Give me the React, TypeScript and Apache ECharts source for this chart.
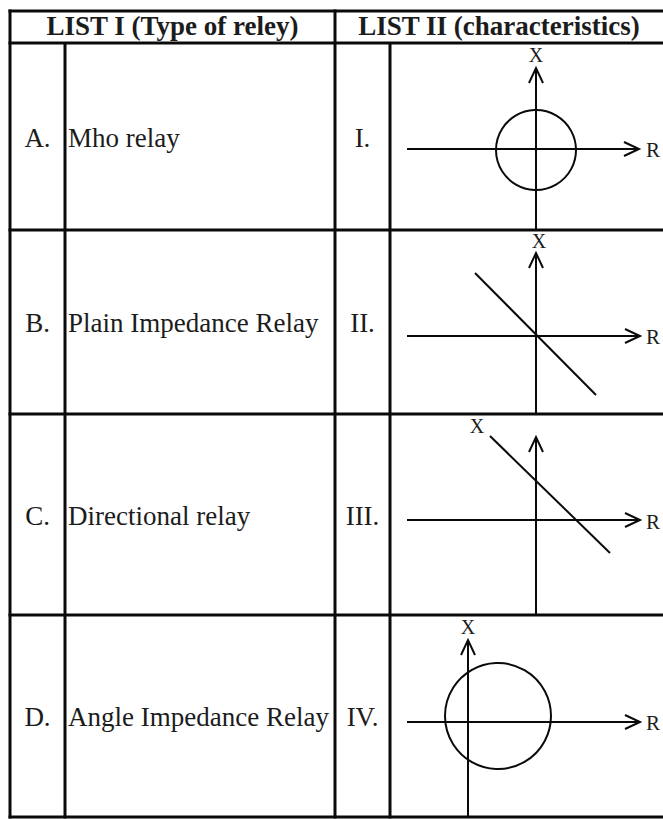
import React, { useEffect, useRef } from "react";
import * as echarts from "echarts";

// ---------- content ----------
const headers = ["LIST I (Type of reley)", "LIST II (characteristics)"];
const letters = ["A.", "B.", "C.", "D."];
const relayTypes = ["Mho relay", "Plain Impedance Relay", "Directional relay", "Angle Impedance Relay"];
const numerals = ["I.", "II.", "III.", "IV."];
const axisNames = ["X", "R"];

// ---------- characteristic diagrams (R–X plane units) ----------
const rAxisSpans = [[-12.9, 10.3], [-12.9, 10.4], [-12.9, 10.4], [-6.1, 17.2]];
const xAxisSpans = [[-8.1, 8.1], [-7.8, 8.3], [-9.5, 8.3], [-9.5, 8.2]];
const diagonals = [[], [[-6.1, 6.3], [6.0, -5.9]], [[-4.6, 8.4], [7.4, -3.3]], []];
const circles = [[[0, -0.1, 4.0]], [], [], [[3.0, 0.6, 5.3]]];
const xNameAt = [[0, 9.4], [0.3, 9.5], [-5.9, 9.4], [0, 9.5]];
const rNameAt = [[11.0, -0.1], [11.0, -0.1], [11.0, -0.2], [17.8, -0.1]];

// ---------- layout ----------
const W = 663;
const H = 819;
const rowLines = [11, 43, 230, 414, 615, 817];
const leftX = 10;
const innerX1 = 65;
const midX = 335;
const innerX2 = 390;
const cellLeft = 392;
const cellRight = 663;
const origins = [[536, 149], [536, 336], [536, 520], [468, 722]];
const UNIT = 10;
const FONT = '"Liberation Serif", "Times New Roman", serif';
const INK = "#1c1c1c";
const LINE = "#0a0a0a";

export default function App() {
  const ref = useRef<HTMLDivElement>(null);

  useEffect(() => {
    if (!ref.current) return;
    const chart = echarts.init(ref.current, undefined, { renderer: "svg" });

    const grids: any[] = [];
    const xAxes: any[] = [];
    const yAxes: any[] = [];
    const series: any[] = [];

    origins.forEach((o, i) => {
      const top = rowLines[i + 1];
      const bottom = rowLines[i + 2];
      grids.push({
        left: cellLeft,
        top,
        width: cellRight - cellLeft,
        height: bottom - top,
        show: false,
        containLabel: false,
        outerBoundsMode: "none",
      });
      xAxes.push({
        type: "value",
        gridIndex: i,
        min: (cellLeft - o[0]) / UNIT,
        max: (cellRight - o[0]) / UNIT,
        show: false,
      });
      yAxes.push({
        type: "value",
        gridIndex: i,
        min: (o[1] - bottom) / UNIT,
        max: (o[1] - top) / UNIT,
        show: false,
      });

      // R and X axes with open arrowheads
      series.push({
        type: "custom",
        xAxisIndex: i,
        yAxisIndex: i,
        silent: true,
        clip: false,
        data: [
          [rAxisSpans[i][0], 0, rAxisSpans[i][1], 0],
          [0, xAxisSpans[i][0], 0, xAxisSpans[i][1]],
        ],
        renderItem: (_p: any, api: any) => {
          const p1 = api.coord([api.value(0), api.value(1)]);
          const p2 = api.coord([api.value(2), api.value(3)]);
          const dx = p2[0] - p1[0];
          const dy = p2[1] - p1[1];
          const len = Math.hypot(dx, dy) || 1;
          const ux = dx / len;
          const uy = dy / len;
          const L = 15;
          const A = 7;
          const a1 = [p2[0] - ux * L - uy * A, p2[1] - uy * L + ux * A];
          const a2 = [p2[0] - ux * L + uy * A, p2[1] - uy * L - ux * A];
          return {
            type: "group",
            children: [
              {
                type: "line",
                shape: { x1: p1[0], y1: p1[1], x2: p2[0], y2: p2[1] },
                style: { stroke: LINE, lineWidth: 2 },
              },
              {
                type: "polyline",
                shape: { points: [a1, p2, a2] },
                style: { stroke: LINE, lineWidth: 2, fill: null },
              },
            ],
          };
        },
      });

      if (diagonals[i].length) {
        series.push({
          type: "line",
          xAxisIndex: i,
          yAxisIndex: i,
          silent: true,
          symbol: "none",
          clip: false,
          data: diagonals[i],
          lineStyle: { color: LINE, width: 2 },
        });
      }

      if (circles[i].length) {
        series.push({
          type: "custom",
          xAxisIndex: i,
          yAxisIndex: i,
          silent: true,
          clip: false,
          data: circles[i],
          renderItem: (_p: any, api: any) => {
            const c = api.coord([api.value(0), api.value(1)]);
            const r = api.size([api.value(2), 0])[0];
            return {
              type: "circle",
              shape: { cx: c[0], cy: c[1], r },
              style: { stroke: LINE, lineWidth: 2, fill: "none" },
            };
          },
        });
      }

      // axis names X and R
      series.push({
        type: "custom",
        xAxisIndex: i,
        yAxisIndex: i,
        silent: true,
        clip: false,
        data: [
          [xNameAt[i][0], xNameAt[i][1], 0],
          [rNameAt[i][0], rNameAt[i][1], 1],
        ],
        renderItem: (_p: any, api: any) => {
          const c = api.coord([api.value(0), api.value(1)]);
          const k = api.value(2);
          return {
            type: "text",
            x: c[0],
            y: c[1],
            style: {
              text: axisNames[k],
              fill: INK,
              font: `${k === 0 ? 20 : 21}px ${FONT}`,
              align: k === 0 ? "center" : "left",
              verticalAlign: "middle",
            },
          };
        },
      });
    });

    // table rules and texts
    const graphic: any[] = [];
    const hline = (y: number, x1: number, x2: number) =>
      graphic.push({
        type: "line",
        shape: { x1, y1: y, x2, y2: y },
        style: { stroke: LINE, lineWidth: 3 },
        z: 10,
      });
    const vline = (x: number, y1: number, y2: number) =>
      graphic.push({
        type: "line",
        shape: { x1: x, y1, x2: x, y2 },
        style: { stroke: LINE, lineWidth: 3 },
        z: 10,
      });
    rowLines.forEach((y) => hline(y, leftX - 1.5, W));
    vline(leftX, rowLines[0] - 1.5, rowLines[5] + 1.5);
    vline(midX, rowLines[0] - 1.5, rowLines[5] + 1.5);
    vline(innerX1, rowLines[1], rowLines[5] + 1.5);
    vline(innerX2, rowLines[1], rowLines[5] + 1.5);

    const text = (t: string, x: number, y: number, align: string, bold = false) =>
      graphic.push({
        type: "text",
        x,
        y,
        z: 11,
        style: {
          text: t,
          fill: INK,
          font: `${bold ? "bold " : ""}27px ${FONT}`,
          align,
          verticalAlign: "middle",
          textAlign: align,
          textVerticalAlign: "middle",
        },
      });

    const headerY = 26;
    text(headers[0], (leftX + midX) / 2, headerY, "center", true);
    text(headers[1], (midX + W) / 2, headerY, "center", true);

    letters.forEach((l, i) => {
      const y = (rowLines[i + 1] + rowLines[i + 2]) / 2 + 1;
      text(l, (leftX + innerX1) / 2, y, "center");
      text(relayTypes[i], innerX1 + 3, y, "left");
      text(numerals[i], (midX + innerX2) / 2, y, "center");
    });

    chart.setOption({
      animation: false,
      backgroundColor: "#ffffff",
      grid: grids,
      xAxis: xAxes,
      yAxis: yAxes,
      series,
      graphic,
    });

    return () => chart.dispose();
  }, []);

  return (
    <div
      ref={ref}
      style={{ position: "absolute", left: 0, top: 0, width: W, height: H, background: "#fff" }}
    />
  );
}
